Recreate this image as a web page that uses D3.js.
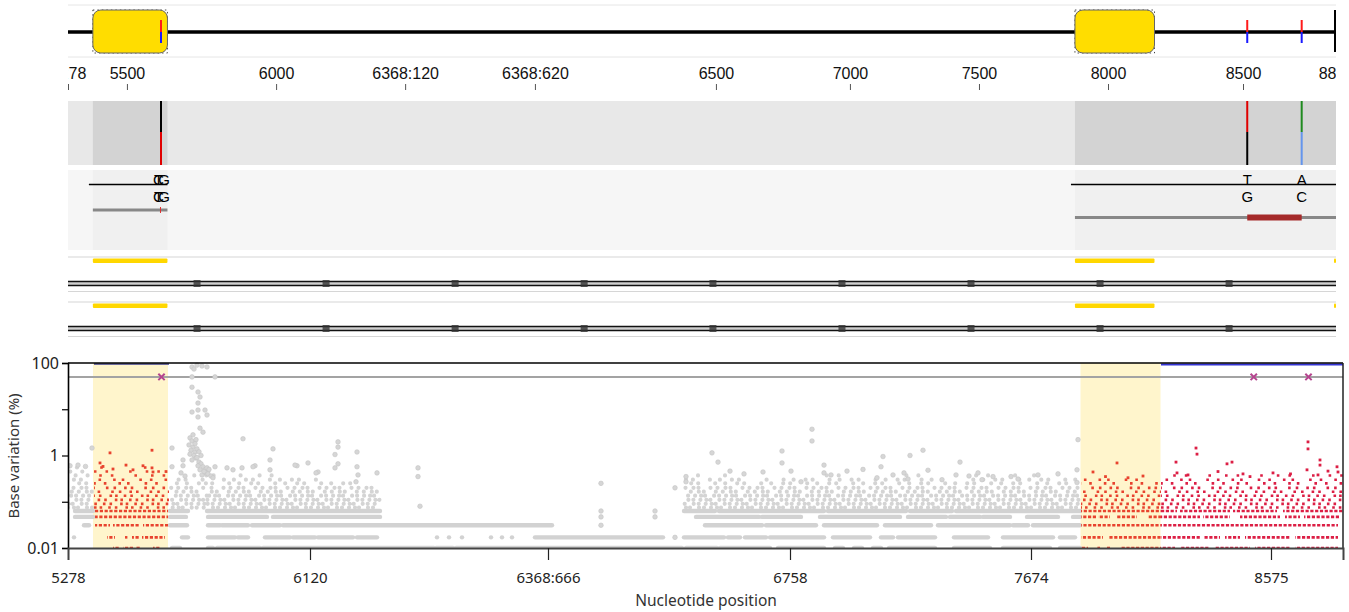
<!DOCTYPE html>
<html>
<head>
<meta charset="utf-8">
<script src="https://cdn.jsdelivr.net/npm/d3@7"></script>
<style>
body { margin: 0; background: #fff; }
svg { display: block; }
</style>
</head>
<body>
<svg id="chart" width="1349" height="612"></svg>
<script>
// alignment columns (shared by the browser tracks and the variation plot)
const colEnd = 5100;
const topTickCols = [0, 237, 837, 1356, 1878, 2606, 3145, 3664, 4183, 4726, 5100];
const topTickLabels = ["5278", "5500", "6000", "6368:120", "6368:620", "6500", "7000", "7500", "8000", "8500", "8800"];
const botTickCols = [0, 968, 1920, 2888, 3852, 4812];
const botTickLabels = ["5278", "6120", "6368:666", "6758", "7674", "8575"];
const yTickVals = [100, 10, 1, 0.1, 0.01];
const yTickLabels = ["100", "", "1", "", "0.01"];

const cdsRegions = [[100, 400], [4050, 4370]];
const edgeFeature = [[5092, 5100]];
const coveredRegions = [[100, 400], [4050, 5100]];
const variantCols = [374, 4743, 4962];
const markerCols = [519, 1038, 1557, 2076, 2594, 3113, 3632, 4151, 4670];
const seqLineSpans = [[84, 400], [4034, 5100]];
const seqLetters = [
  { col: 364, top: "C", bottom: "C" },
  { col: 364, top: "T", bottom: "T" },
  { col: 386, top: "G", bottom: "G" },
  { col: 4743, top: "T", bottom: "G" },
  { col: 4962, top: "A", bottom: "C" }
];
const readRow1 = [[100, 400]];
const readRow2 = [[4050, 5100]];
const mismatchRow1 = [372];
const mismatchRow2 = [[4743, 4962]];

// base variation (%): dense runs [col0, col1, value]
const greyBands = [
  [28, 100, 0.063], [408, 480, 0.063], [556, 1248, 0.063], [2464, 2588, 0.063], [2604, 3024, 0.063],
  [3040, 3352, 0.063], [3368, 3536, 0.063], [3552, 4048, 0.063],
  [28, 100, 0.047], [408, 472, 0.047], [560, 796, 0.047], [820, 1248, 0.047], [2512, 2764, 0.047],
  [2776, 2932, 0.047], [3008, 3328, 0.047], [3360, 3512, 0.047], [3528, 3648, 0.047], [3660, 3768, 0.047],
  [3836, 3960, 0.047], [4020, 4048, 0.047],
  [64, 84, 0.031], [408, 476, 0.031], [560, 608, 0.031], [616, 720, 0.031], [736, 848, 0.031],
  [860, 1936, 0.031], [2548, 2776, 0.031], [2792, 2992, 0.031], [3024, 3236, 0.031], [3268, 3452, 0.031],
  [3480, 3768, 0.031], [3780, 3840, 0.031], [3860, 4048, 0.031],
  [24, 24, 0.017], [456, 480, 0.017], [560, 668, 0.017], [680, 720, 0.017], [788, 888, 0.017],
  [900, 988, 0.017], [1000, 1140, 0.017], [1156, 1236, 0.017], [1476, 1476, 0.017], [1524, 1524, 0.017],
  [1576, 1576, 0.017], [1692, 1692, 0.017], [1736, 1736, 0.017], [1776, 1776, 0.017], [1868, 2380, 0.017],
  [2464, 2624, 0.017], [2640, 2688, 0.017], [2708, 2792, 0.017], [2808, 3024, 0.017], [3060, 3208, 0.017],
  [3252, 3300, 0.017], [3320, 3468, 0.017], [3544, 3680, 0.017], [3740, 3940, 0.017], [3968, 4028, 0.017],
  [416, 448, 0.01], [560, 580, 0.01], [596, 768, 0.01], [780, 836, 0.01], [840, 1464, 0.01],
  [1472, 1540, 0.01], [1552, 2456, 0.01], [2472, 2596, 0.01], [2608, 2808, 0.01], [2840, 3024, 0.01],
  [3068, 3100, 0.01], [3144, 3176, 0.01], [3220, 3252, 0.01], [3284, 3468, 0.01], [3544, 3688, 0.01],
  [3740, 3928, 0.01], [3968, 4048, 0.01]
];
const redBands = [
  [108, 400, 0.063], [108, 400, 0.047], [108, 168, 0.031], [180, 288, 0.031], [300, 400, 0.031],
  [156, 188, 0.017], [228, 240, 0.017], [256, 288, 0.017], [296, 388, 0.017],
  [180, 208, 0.01], [220, 260, 0.01], [268, 288, 0.01], [340, 368, 0.01],
  [4052, 4372, 0.063], [4052, 4116, 0.047], [4120, 4168, 0.047], [4192, 4276, 0.047], [4320, 4372, 0.047],
  [4052, 4372, 0.031], [4052, 4140, 0.017], [4160, 4372, 0.017],
  [4052, 4080, 0.01], [4116, 4128, 0.01], [4156, 4168, 0.01], [4208, 4372, 0.01]
];
const crimsonBands = [
  [4372, 4436, 0.063], [4448, 4648, 0.063], [4660, 4836, 0.063], [4860, 5100, 0.063],
  [4372, 4528, 0.047], [4540, 4648, 0.047], [4688, 4848, 0.047], [4868, 4928, 0.047], [4944, 5088, 0.047],
  [4372, 5080, 0.031],
  [4372, 4528, 0.017], [4540, 4608, 0.017], [4628, 4688, 0.017], [4708, 4888, 0.017], [4908, 5080, 0.017],
  [4372, 4428, 0.01], [4448, 4568, 0.01], [4588, 4728, 0.01], [4748, 4888, 0.01], [4908, 5080, 0.01]
];

// scattered cloud above the bands, as runs [col0, col1, value]
const greyCloud = [
  [0, 100, 0.075], [0, 100, 0.09], [0, 100, 0.11], [0, 100, 0.135], [0, 100, 0.165], [0, 100, 0.2],
  [0, 100, 0.25], [0, 100, 0.3], [0, 100, 0.37], [0, 100, 0.45], [0, 60, 0.55],
  [404, 556, 0.075], [404, 556, 0.09], [404, 556, 0.11], [404, 556, 0.135], [404, 556, 0.165],
  [404, 556, 0.2], [404, 556, 0.25], [404, 556, 0.3], [460, 556, 0.37],
  [556, 1248, 0.075], [556, 1248, 0.09], [556, 1248, 0.11], [556, 1248, 0.135], [556, 1248, 0.165],
  [556, 1248, 0.2], [556, 1168, 0.25], [556, 1008, 0.3], [556, 888, 0.37], [556, 668, 0.45],
  [2464, 4048, 0.075], [2464, 4048, 0.09], [2464, 4048, 0.11], [2464, 4048, 0.135], [2464, 4048, 0.165],
  [2464, 4048, 0.2], [2464, 4048, 0.25], [2464, 2700, 0.3], [2780, 3500, 0.3], [3560, 4048, 0.3],
  [2500, 2640, 0.37], [2960, 3100, 0.37], [3300, 3460, 0.37], [3600, 3900, 0.37]
];
const redCloud = [
  [104, 404, 0.075], [104, 404, 0.09], [104, 404, 0.11], [104, 404, 0.135], [104, 404, 0.165],
  [104, 404, 0.2], [104, 404, 0.25], [104, 404, 0.3], [104, 404, 0.37], [104, 404, 0.45],
  [104, 200, 0.55], [300, 390, 0.55],
  [4052, 4372, 0.075], [4052, 4372, 0.09], [4052, 4372, 0.11], [4052, 4372, 0.135], [4052, 4372, 0.165],
  [4052, 4372, 0.2], [4052, 4372, 0.25], [4052, 4300, 0.3]
];
const crimsonCloud = [
  [4372, 5100, 0.075], [4372, 5100, 0.09], [4372, 5100, 0.11], [4372, 5100, 0.135], [4372, 5100, 0.165],
  [4372, 5100, 0.2], [4372, 5100, 0.25], [4372, 5100, 0.3], [4400, 5100, 0.37]
];

// single points [col, value]
const greyPts = [
  [496, 82], [516, 90], [536, 86], [556, 82], [504, 74], [496, 50], [588, 50], [496, 30], [520, 23.6],
  [528, 18.4], [520, 13.6], [496, 8.7], [520, 9.6], [548, 9.6], [556, 7.5], [520, 6.8], [528, 3.9],
  [540, 3.2], [488, 2.4], [496, 2.06], [484, 1.69], [500, 1.52], [492, 1.3], [508, 1.19], [488, 1.07],
  [504, 1.0], [512, 0.88], [496, 0.8], [516, 1.39], [524, 0.72], [532, 0.66], [540, 0.57], [520, 0.6],
  [548, 0.49], [552, 0.42], [528, 0.49], [536, 0.38], [556, 0.54], [544, 0.45], [560, 0.4], [572, 0.36],
  [580, 0.33], [564, 0.5], [500, 2.8], [512, 2.2], [508, 1.8], [524, 1.2], [532, 1.0], [516, 0.9],
  [700, 2.3], [820, 1.39], [1080, 1.97], [1080, 1.52], [1156, 1.19], [416, 1.45], [416, 0.57], [460, 0.8],
  [460, 0.6], [452, 0.42], [468, 0.36], [588, 0.57], [636, 0.54], [696, 0.54], [748, 0.6], [808, 0.8],
  [808, 0.49], [916, 0.6], [1000, 0.44], [1068, 0.54], [1080, 0.66], [1156, 0.57], [1160, 0.38],
  [1236, 0.42], [960, 0.69], [1068, 1.05], [1152, 0.27], [660, 0.49], [740, 0.57], [908, 0.62], [992, 0.42],
  [96, 1.45], [8, 0.6], [40, 0.62], [70, 0.58],
  [1400, 0.54], [1400, 0.35], [1408, 0.08], [2132, 0.25], [2132, 0.063], [2132, 0.047], [2132, 0.031],
  [2348, 0.063], [2348, 0.047], [2428, 0.2], [2428, 0.017],
  [2576, 1.14], [2600, 0.72], [2648, 0.46], [2856, 1.25], [2856, 0.69], [2892, 0.46], [2976, 3.7],
  [2976, 2.06], [3024, 0.62], [3260, 0.95], [3252, 0.57], [3368, 1.0], [3420, 1.3], [3568, 0.72],
  [2472, 0.35], [2472, 0.27], [2932, 0.27], [3024, 0.42], [3052, 0.38], [3236, 0.33], [3300, 0.38],
  [3344, 0.42], [3360, 0.31], [3496, 0.3], [3552, 0.38], [3604, 0.36], [3656, 0.3], [3700, 0.35],
  [3772, 0.35], [3800, 0.31], [4040, 2.2], [4036, 0.49], [4036, 0.26], [2704, 0.4], [2780, 0.44],
  [3116, 0.46], [3180, 0.5], [3440, 0.48], [3640, 0.42], [3880, 0.38], [3960, 0.4]
];
const redPts = [
  [168, 1.14], [336, 1.3], [128, 0.69], [180, 0.51], [260, 0.49], [336, 0.54], [340, 0.44], [232, 0.62],
  [300, 0.6], [140, 0.58], [392, 0.45],
  [4100, 0.44], [4196, 0.69], [4150, 0.35], [4240, 0.33], [4300, 0.36]
];
const crimsonPts = [
  [4512, 1.45], [4516, 1.07], [4432, 0.72], [4436, 0.42], [4636, 0.66], [4656, 0.72], [4728, 0.35],
  [4960, 1.97], [4960, 1.39], [5008, 0.8], [5008, 0.62], [4956, 0.49], [5076, 0.57], [5080, 0.44],
  [5000, 0.38], [4600, 0.45], [4820, 0.42], [4890, 0.4], [5040, 0.46], [4480, 0.38], [4700, 0.4]
];
const thresholdPct = 50;
const fullSpansDark = [[104, 404]];
const fullSpansBlue = [[4372, 5100]];

const svg = d3.select("#chart");
const xTop = d3.scaleLinear().domain([0, colEnd]).range([68, 1336]);
const xBot = d3.scaleLinear().domain([0, colEnd]).range([68, 1343]);
const yBot = d3.scaleLog().domain([0.01, 100]).range([548, 363]);
const sansTop = "'Liberation Sans', Arial, sans-serif";
const sansBot = "'Noto Sans', 'Open Sans', sans-serif";

// ---- genome overview track
const gGen = svg.append("g");
[5, 57].forEach(y => gGen.append("line")
  .attr("x1", 68).attr("x2", 1336).attr("y1", y).attr("y2", y)
  .attr("stroke", "#e6e6e6").attr("stroke-width", 1));
gGen.append("line").attr("x1", xTop(0)).attr("x2", xTop(colEnd)).attr("y1", 32).attr("y2", 32)
  .attr("stroke", "#000").attr("stroke-width", 3.5);
gGen.selectAll(".cdsHandle").data(cdsRegions).join("rect")
  .attr("x", d => xTop(d[0])).attr("y", 10)
  .attr("width", d => xTop(d[1]) - xTop(d[0])).attr("height", 43)
  .attr("fill", "none").attr("stroke", "#222").attr("stroke-width", 0.8).attr("stroke-dasharray", "1.5 3");
gGen.selectAll(".cds").data(cdsRegions).join("rect")
  .attr("x", d => xTop(d[0])).attr("y", 10)
  .attr("width", d => xTop(d[1]) - xTop(d[0])).attr("height", 43)
  .attr("rx", 8).attr("fill", "#ffdd00").attr("stroke", "#666").attr("stroke-width", 1);
variantCols.forEach(c => {
  gGen.append("line").attr("x1", xTop(c)).attr("x2", xTop(c)).attr("y1", 20).attr("y2", 32)
    .attr("stroke", "#ff1a1a").attr("stroke-width", 2);
  gGen.append("line").attr("x1", xTop(c)).attr("x2", xTop(c)).attr("y1", 32).attr("y2", 43)
    .attr("stroke", "#1a1aff").attr("stroke-width", 2);
});
gGen.append("line").attr("x1", xTop(colEnd) - 1).attr("x2", xTop(colEnd) - 1).attr("y1", 10).attr("y2", 52)
  .attr("stroke", "#000").attr("stroke-width", 2);

// ---- top ruler (labels clipped to the track width)
svg.append("clipPath").attr("id", "rulerClip").append("rect")
  .attr("x", 68).attr("y", 55).attr("width", 1268).attr("height", 40);
const gRuler = svg.append("g").attr("clip-path", "url(#rulerClip)");
const gAxT = gRuler.append("g").attr("transform", "translate(0,90)")
  .call(d3.axisTop(xTop).tickValues(topTickCols).tickFormat((d, i) => topTickLabels[i]).tickSize(6).tickPadding(5));
gAxT.select(".domain").remove();
gAxT.selectAll(".tick line").attr("stroke", "#555");
gAxT.selectAll(".tick line").filter((d, i) => i === topTickCols.length - 1).remove();
gAxT.selectAll("text").attr("font-family", sansTop).attr("font-size", 16).attr("fill", "#111");

// ---- coverage track
const gCov = svg.append("g");
gCov.append("rect").attr("x", 68).attr("y", 101).attr("width", 1268).attr("height", 64).attr("fill", "#e8e8e8");
gCov.selectAll(".reg").data(coveredRegions).join("rect")
  .attr("x", d => xTop(d[0])).attr("y", 101)
  .attr("width", d => xTop(d[1]) - xTop(d[0])).attr("height", 64).attr("fill", "#d3d3d3");
const covColours = [["#000", "#e00000"], ["#e00000", "#000"], ["#1f8a1f", "#6495ed"]];
variantCols.forEach((c, i) => {
  gCov.append("line").attr("x1", xTop(c)).attr("x2", xTop(c)).attr("y1", 101).attr("y2", 132)
    .attr("stroke", covColours[i][0]).attr("stroke-width", 2);
  gCov.append("line").attr("x1", xTop(c)).attr("x2", xTop(c)).attr("y1", 132).attr("y2", 165)
    .attr("stroke", covColours[i][1]).attr("stroke-width", 2);
});

// ---- sequence / reads track
const gSeq = svg.append("g");
gSeq.append("rect").attr("x", 68).attr("y", 170).attr("width", 1268).attr("height", 80).attr("fill", "#f6f6f6");
gSeq.selectAll(".reg").data(coveredRegions).join("rect")
  .attr("x", d => xTop(d[0])).attr("y", 170)
  .attr("width", d => xTop(d[1]) - xTop(d[0])).attr("height", 80).attr("fill", "#f0f0f0");
gSeq.selectAll(".seqline").data(seqLineSpans).join("line")
  .attr("x1", d => xTop(d[0])).attr("x2", d => xTop(d[1])).attr("y1", 184.5).attr("y2", 184.5)
  .attr("stroke", "#000").attr("stroke-width", 1.5);
gSeq.selectAll(".ltop").data(seqLetters).join("text")
  .attr("x", d => xTop(d.col)).attr("y", 185).attr("text-anchor", "middle")
  .attr("font-family", sansTop).attr("font-size", 15).attr("fill", "#000").text(d => d.top);
gSeq.selectAll(".lbot").data(seqLetters).join("text")
  .attr("x", d => xTop(d.col)).attr("y", 202).attr("text-anchor", "middle")
  .attr("font-family", sansTop).attr("font-size", 15).attr("fill", "#000").text(d => d.bottom);
gSeq.selectAll(".r1").data(readRow1).join("line")
  .attr("x1", d => xTop(d[0])).attr("x2", d => xTop(d[1])).attr("y1", 210).attr("y2", 210)
  .attr("stroke", "#888").attr("stroke-width", 3);
gSeq.selectAll(".m1").data(mismatchRow1).join("line")
  .attr("x1", d => xTop(d)).attr("x2", d => xTop(d)).attr("y1", 207).attr("y2", 213)
  .attr("stroke", "#e03030").attr("stroke-width", 1);
gSeq.selectAll(".r2").data(readRow2).join("line")
  .attr("x1", d => xTop(d[0])).attr("x2", d => xTop(d[1])).attr("y1", 217.5).attr("y2", 217.5)
  .attr("stroke", "#888").attr("stroke-width", 3);
gSeq.selectAll(".m2").data(mismatchRow2).join("rect")
  .attr("x", d => xTop(d[0])).attr("y", 214.5).attr("width", d => xTop(d[1]) - xTop(d[0])).attr("height", 6)
  .attr("fill", "#a52a2a");

// ---- feature bar tracks
[257, 302].forEach(base => {
  const g = svg.append("g");
  [base, base + 34.5].forEach(y => g.append("line")
    .attr("x1", 68).attr("x2", 1336).attr("y1", y).attr("y2", y).attr("stroke", "#d6d6d6").attr("stroke-width", 1.2));
  g.selectAll(".bar").data(cdsRegions.concat(edgeFeature)).join("rect")
    .attr("x", d => xTop(d[0])).attr("y", base + 1.5)
    .attr("width", d => xTop(d[1]) - xTop(d[0])).attr("height", 4.5).attr("rx", 1)
    .attr("fill", "#ffd700");
  g.append("rect").attr("x", 68).attr("y", base + 24.5).attr("width", 1268).attr("height", 4).attr("fill", "#cfcfcf");
  [base + 24.5, base + 28.5].forEach(y => g.append("line")
    .attr("x1", 68).attr("x2", 1336).attr("y1", y).attr("y2", y).attr("stroke", "#111").attr("stroke-width", 1.6));
  g.selectAll(".mk").data(markerCols).join("rect")
    .attr("x", d => xTop(d) - 3.5).attr("y", base + 23).attr("width", 7).attr("height", 7)
    .attr("fill", "#333").attr("opacity", 0.8);
});

// ---- base variation plot
const plot = svg.append("g");
svg.append("clipPath").attr("id", "plotClip").append("rect")
  .attr("x", 68).attr("y", 362).attr("width", 1275).attr("height", 187);
plot.selectAll(".hl").data(cdsRegions).join("rect")
  .attr("x", d => xBot(d[0])).attr("y", 363)
  .attr("width", d => xBot(d[1]) - xBot(d[0])).attr("height", 185).attr("fill", "#fff5cc");
plot.append("line").attr("x1", 68).attr("x2", 1343).attr("y1", yBot(thresholdPct)).attr("y2", yBot(thresholdPct))
  .attr("stroke", "#a3a3a3").attr("stroke-width", 2);

const marks = plot.append("g").attr("clip-path", "url(#plotClip)");
function runs(data, stroke, width, cap, dashFor) {
  marks.append("g").selectAll("line").data(data).join("line")
    .attr("x1", d => xBot(d[0])).attr("x2", d => xBot(d[1]))
    .attr("y1", d => yBot(d[2])).attr("y2", d => yBot(d[2]))
    .attr("stroke", stroke).attr("stroke-width", width).attr("stroke-linecap", cap)
    .attr("stroke-dasharray", d => dashFor ? dashFor(d) : null)
    .attr("stroke-dashoffset", (d, i) => (i * 5.3) % 31);
}
// irregular dot spacing so the cloud reads as scatter rather than a grid
const greyDots = d => d[2] <= 0.14 ? "0 6 0 4 0 9 0 5 0 7"
  : d[2] <= 0.21 ? "0 8 0 5 0 12 0 7"
  : d[2] <= 0.31 ? "0 12 0 7 0 17 0 10" : "0 19 0 12 0 27";
const redDash = d => d[2] <= 0.14 ? "2.6 3 2.6 6 2.6 4 2.6 8"
  : d[2] <= 0.21 ? "2.6 5 2.6 8 2.6 4 2.6 11"
  : d[2] <= 0.31 ? "2.6 8 2.6 12 2.6 6 2.6 15" : "2.6 14 2.6 9 2.6 21";
runs(greyCloud, "#d4d4d4", 4.2, "round", greyDots);
runs(greyBands, "#d2d2d2", 4.4, "round", null);
marks.append("g").selectAll("circle").data(greyPts).join("circle")
  .attr("cx", d => xBot(d[0])).attr("cy", d => yBot(d[1])).attr("r", 2.3)
  .attr("fill", "#d6d6d6").attr("stroke", "#c4c4c4").attr("stroke-width", 0.6);
runs(redCloud, "#e8432e", 2.6, "butt", redDash);
runs(redBands, "#e8432e", 2.6, "butt", () => "3.2 1.6");
runs(crimsonCloud, "#dc1f45", 2.6, "butt", redDash);
runs(crimsonBands, "#dc1f45", 2.6, "butt", () => "3.2 1.6");
[[redPts, "#e8432e"], [crimsonPts, "#dc1f45"]].forEach(([pts, c]) => {
  marks.append("g").selectAll("rect").data(pts).join("rect")
    .attr("x", d => xBot(d[0]) - 1.4).attr("y", d => yBot(d[1]) - 1.4)
    .attr("width", 2.8).attr("height", 2.8).attr("fill", c);
});

plot.selectAll(".full1").data(fullSpansDark).join("line")
  .attr("x1", d => xBot(d[0])).attr("x2", d => xBot(d[1])).attr("y1", 364).attr("y2", 364)
  .attr("stroke", "#3c3c8c").attr("stroke-width", 1.5);
plot.selectAll(".full2").data(fullSpansBlue).join("line")
  .attr("x1", d => xBot(d[0])).attr("x2", d => xBot(d[1])).attr("y1", 364.5).attr("y2", 364.5)
  .attr("stroke", "#3434d4").attr("stroke-width", 2);
plot.selectAll(".xm").data(variantCols).join("path")
  .attr("transform", d => `translate(${xBot(d)},${yBot(thresholdPct)})`)
  .attr("d", d3.symbol(d3.symbolTimes, 28))
  .attr("fill", "none").attr("stroke", "#b5458f").attr("stroke-width", 2);

// frame
plot.append("line").attr("x1", 68).attr("x2", 1343).attr("y1", 363).attr("y2", 363)
  .attr("stroke", "#000").attr("stroke-width", 1.5);
plot.append("line").attr("x1", 1343).attr("x2", 1343).attr("y1", 363).attr("y2", 548)
  .attr("stroke", "#222").attr("stroke-width", 1.5);

// axes
const gAxL = svg.append("g").attr("transform", "translate(68,0)")
  .call(d3.axisLeft(yBot).tickValues(yTickVals).tickFormat((d, i) => yTickLabels[i]).tickSize(6).tickPadding(3));
gAxL.select(".domain").attr("stroke", "#000").attr("stroke-width", 1.6);
gAxL.selectAll(".tick line").attr("stroke", "#000").attr("stroke-width", 1.2);
gAxL.selectAll("text").attr("font-family", sansBot).attr("font-size", 16).attr("fill", "#222");

const gAxB = svg.append("g").attr("transform", "translate(0,548)")
  .call(d3.axisBottom(xBot).tickValues(botTickCols).tickFormat((d, i) => botTickLabels[i]).tickSize(12).tickPadding(12));
gAxB.select(".domain").attr("stroke", "#444").attr("stroke-width", 2);
gAxB.selectAll(".tick line").attr("stroke", "#222").attr("stroke-width", 1.2);
gAxB.selectAll(".tick line").filter((d, i) => i === 0).remove();
gAxB.selectAll("text").attr("font-family", sansBot).attr("font-size", 15).attr("fill", "#222");

svg.append("text").attr("x", 706).attr("y", 606).attr("text-anchor", "middle")
  .attr("font-family", sansBot).attr("font-size", 15.5).attr("fill", "#333").text("Nucleotide position");
svg.append("text").attr("transform", "translate(19,456) rotate(-90)").attr("text-anchor", "middle")
  .attr("font-family", sansBot).attr("font-size", 15).attr("fill", "#333").text("Base variation (%)");
</script>
</body>
</html>
